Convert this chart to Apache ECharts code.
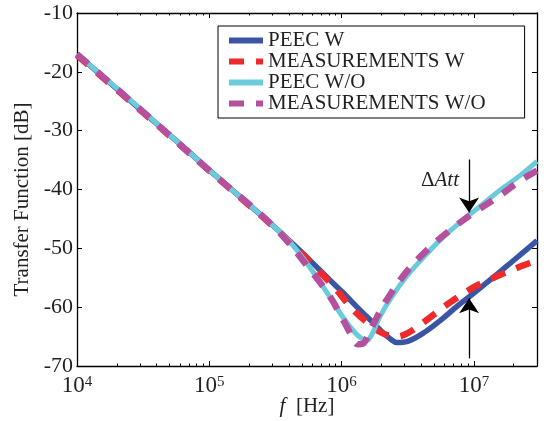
<!DOCTYPE html>
<html>
<head>
<meta charset="utf-8">
<script src="https://cdn.jsdelivr.net/npm/echarts@6/dist/echarts.min.js"></script>
<style>
html,body{margin:0;padding:0;background:#fff;}
#chart{width:547px;height:421px;}
</style>
</head>
<body>
<div id="chart"></div>
<script>
// ---- Data (frequency in Hz, transfer function in dB) ----
const peecWFreq = [1e4, 1.78e4, 3.16e4, 5.62e4, 1e5, 1.78e5, 3.16e5, 4.07e5, 5.75e5, 8.17e5, 1e6, 1.38e6, 1.74e6, 2.07e6, 2.34e6, 2.61e6, 3.16e6, 4.15e6, 5.62e6, 7.41e6, 1e7, 1.32e7, 1.78e7, 2.24e7, 3e7];
const peecWVal  = [-17.0, -21.9, -26.8, -31.7, -36.7, -41.6, -46.5, -48.8, -52.0, -55.4, -57.3, -60.5, -62.7, -64.4, -65.4, -66.0, -65.8, -64.4, -62.2, -59.9, -57.6, -55.4, -53.0, -51.1, -48.7];

const measWFreq = [1e4, 3.16e4, 1e5, 3.16e5, 5.75e5, 8.71e5, 1.23e6, 1.64e6, 2.07e6, 2.61e6, 3.16e6, 4.15e6, 6.61e6, 1e7, 1.32e7, 1.70e7, 2.24e7, 2.65e7, 3e7];
const measWVal  = [-17.2, -26.9, -36.8, -46.6, -52.3, -56.5, -60.5, -63.0, -64.5, -65.0, -64.4, -62.6, -59.2, -56.6, -55.3, -54.2, -53.1, -52.5, -52.1];

const peecWOFreq = [1e4, 3.16e4, 1e5, 3.16e5, 4.07e5, 5.75e5, 8.17e5, 1.03e6, 1.26e6, 1.45e6, 1.55e6, 1.66e6, 1.78e6, 1.95e6, 2.34e6, 3.09e6, 3.98e6, 5.55e6, 7.94e6, 1.11e7, 1.58e7, 2.24e7, 3e7];
const peecWOVal  = [-17.0, -26.7, -36.7, -46.5, -48.9, -53.2, -58.3, -61.8, -64.3, -65.5, -65.7, -65.0, -63.6, -61.6, -58.6, -54.8, -52.0, -48.6, -45.5, -42.9, -40.1, -37.6, -35.2];

const measWOFreq = [1e4, 3.16e4, 1e5, 3.16e5, 6.11e5, 8.17e5, 1.03e6, 1.2e6, 1.32e6, 1.45e6, 1.58e6, 1.82e6, 2.19e6, 3.09e6, 4.66e6, 6.61e6, 9.91e6, 1.58e7, 2.24e7, 3e7];
const measWOVal  = [-17.0, -26.8, -36.8, -46.6, -54.3, -58.2, -62.2, -65.0, -66.3, -66.2, -64.8, -62.0, -58.8, -54.0, -49.8, -46.9, -44.0, -41.0, -38.5, -36.8];

const seriesNames = ['PEEC W', 'MEASUREMENTS W', 'PEEC W/O', 'MEASUREMENTS W/O'];
const yTicks = [-70, -60, -50, -40, -30, -20, -10];
const xDecades = [1e4, 1e5, 1e6, 1e7];
// arrow annotation (frequency, start dB, tip dB)
const attFreq = 9.2e6;
const attDown = [-34.9, -43.9];
const attUp = [-68.7, -58.5];

// ---- build ----
function pairs(xs, ys) { return xs.map((x, i) => [x, ys[i]]); }
const minorTicks = [];
for (let d = 0; d < xDecades.length; d++) {
  for (let k = 2; k <= 9; k++) {
    const v = k * xDecades[d];
    if (v < 3e7) minorTicks.push(v);
  }
}

const FONT = 'Liberation Serif';
const TXT = '#231f20';
const chart = echarts.init(document.getElementById('chart'), null, {renderer: 'canvas'});

function xLabel(v) {
  for (let i = 0; i < xDecades.length; i++) {
    if (Math.abs(v - xDecades[i]) / xDecades[i] < 1e-6) {
      return '{b|10}{s|' + Math.round(Math.log10(v)) + '}';
    }
  }
  return '';
}

const baseLog = {type: 'log', logBase: 10, min: 1e4, max: 3e7, gridIndex: 0, splitLine: {show: false}};
const option = {
  backgroundColor: '#fff',
  animation: false,
  grid: {left: 77, right: 10, top: 13, bottom: 55, containLabel: false, outerBoundsMode: 'none'},
  legend: {
    orient: 'vertical', left: 218, top: 26,
    itemWidth: 34, itemHeight: 14, itemGap: 0,
    padding: [4, 39, 4, 8],
    borderColor: '#000', borderWidth: 1, backgroundColor: '#fff',
    itemStyle: {opacity: 0},
    lineStyle: {width: 6},
    textStyle: {fontFamily: FONT, fontSize: 21, color: TXT, lineHeight: 20},
    data: seriesNames
  },
  xAxis: [
    Object.assign({}, baseLog, {
      position: 'bottom',
      axisLine: {show: true, lineStyle: {color: '#000', width: 1.3}},
      axisTick: {show: true, inside: true, length: 5, lineStyle: {color: '#000'}},
      axisLabel: {show: true, formatter: xLabel, margin: 9, color: TXT,
        rich: {b: {fontFamily: FONT, fontSize: 23, color: TXT, lineHeight: 22},
               s: {fontFamily: FONT, fontSize: 15, color: TXT, verticalAlign: 'top', lineHeight: 15}}},
      name: '{i|f}  [Hz]', nameLocation: 'middle', nameGap: 30, nameMoveOverlap: false,
      nameTextStyle: {fontFamily: FONT, fontSize: 21, color: TXT,
        rich: {i: {fontFamily: FONT, fontStyle: 'italic', fontSize: 21, color: TXT}}}
    }),
    Object.assign({}, baseLog, {
      position: 'bottom',
      axisLine: {show: false},
      axisTick: {show: true, inside: true, length: 2.5, customValues: minorTicks, lineStyle: {color: '#000'}},
      axisLabel: {show: false}
    }),
    Object.assign({}, baseLog, {
      position: 'top',
      axisLine: {show: true, lineStyle: {color: '#000', width: 1.3}},
      axisTick: {show: true, inside: true, length: 5, lineStyle: {color: '#000'}},
      axisLabel: {show: false}
    }),
    Object.assign({}, baseLog, {
      position: 'top',
      axisLine: {show: false},
      axisTick: {show: true, inside: true, length: 2.5, customValues: minorTicks, lineStyle: {color: '#000'}},
      axisLabel: {show: false}
    })
  ],
  yAxis: [
    {type: 'value', min: -70, max: -10, interval: 10, position: 'left',
      axisLine: {show: true, lineStyle: {color: '#000', width: 1.3}},
      axisTick: {show: true, inside: true, length: 5, lineStyle: {color: '#000'}},
      axisLabel: {fontFamily: FONT, fontSize: 22, color: TXT, margin: 4,
        formatter: v => (yTicks.indexOf(v) >= 0 ? String(v) : '')},
      splitLine: {show: false},
      name: 'Transfer Function [dB]', nameLocation: 'middle', nameGap: 44, nameMoveOverlap: false,
      nameTextStyle: {fontFamily: FONT, fontSize: 21, color: TXT, padding: [0, 20, 0, 0]}
    },
    {type: 'value', min: -70, max: -10, interval: 10, position: 'right',
      axisLine: {show: true, lineStyle: {color: '#000', width: 1.3}},
      axisTick: {show: true, inside: true, length: 5, lineStyle: {color: '#000'}},
      axisLabel: {show: false}, splitLine: {show: false}
    }
  ],
  graphic: [{
    type: 'text', left: 421, top: 170, z: 100,
    style: {text: '{a|Δ}{b|Att}', fill: TXT,
      rich: {a: {fontFamily: FONT, fontSize: 21, fill: TXT}, b: {fontFamily: FONT, fontSize: 21, fontStyle: 'italic', fill: TXT}}}
  }],
  series: [
    {name: seriesNames[0], type: 'line', data: pairs(peecWFreq, peecWVal), symbol: 'none', smooth: 0.35,
      lineStyle: {color: '#3b55a5', width: 5.5}, itemStyle: {color: '#3b55a5'}, z: 2},
    {name: seriesNames[1], type: 'line', data: pairs(measWFreq, measWVal), symbol: 'none', smooth: 0.35,
      lineStyle: {color: '#ee2a2b', width: 6.5, type: [15, 12], cap: 'butt'}, itemStyle: {color: '#ee2a2b'}, z: 3},
    {name: seriesNames[2], type: 'line', data: pairs(peecWOFreq, peecWOVal), symbol: 'none', smooth: 0.35,
      lineStyle: {color: '#6ccbdb', width: 5}, itemStyle: {color: '#6ccbdb'}, z: 4},
    {name: seriesNames[3], type: 'line', data: pairs(measWOFreq, measWOVal), symbol: 'none', smooth: 0.35,
      lineStyle: {color: '#b5509f', width: 6.5, type: [15, 12], cap: 'butt'}, itemStyle: {color: '#b5509f'}, z: 5,
      markLine: {
        silent: true, animation: false, z: 10,
        symbol: ['none', 'arrow'], symbolSize: 15,
        label: {show: false},
        lineStyle: {color: '#000', width: 1.3, type: 'solid'},
        emphasis: {disabled: true},
        data: [
          [{coord: [attFreq, attDown[0]]}, {coord: [attFreq, attDown[1]]}],
          [{coord: [attFreq, attUp[0]]}, {coord: [attFreq, attUp[1]]}]
        ]
      }}
  ]
};
chart.setOption(option);
</script>
</body>
</html>
